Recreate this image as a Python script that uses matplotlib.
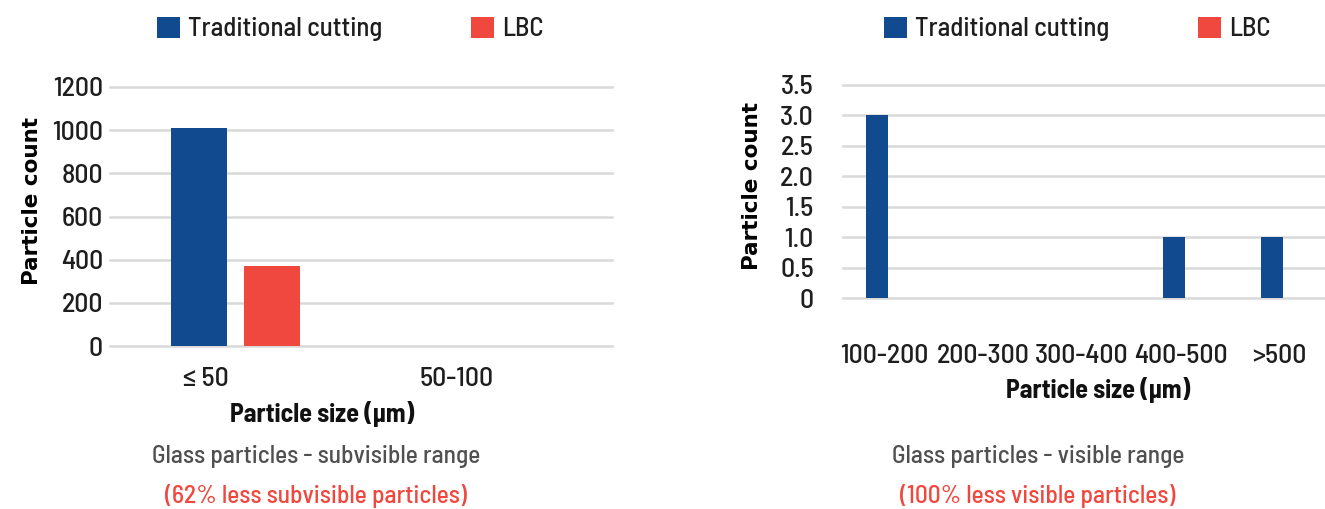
import numpy as np
import matplotlib.pyplot as plt
from matplotlib import transforms
from matplotlib.ticker import FuncFormatter

# Subvisible range counts
sub_sizes = ['≤ 50', '50-100']
sub_traditional = [1010, 0]
sub_lbc = [370, 0]

# Visible range counts
vis_sizes = ['100-200', '200-300', '300-400', '400-500', '>500']
vis_traditional = [3, 0, 0, 1, 1]
vis_lbc = [0, 0, 0, 0, 0]

blue = '#114a8f'
red = '#f0483e'
grid_c = '#d9d9d9'
grey_txt = '#505050'
ink = '#1e1e1e'
cond = ['Barlow Semi Condensed', 'Roboto Condensed', 'DejaVu Sans']

plt.rcParams['font.family'] = cond
plt.rcParams['font.weight'] = 500

fig = plt.figure(figsize=(13.25, 5.09), dpi=100)


def bar_panel(rect, cats, trad, lbc, ylim, ystep, w, off, label_shift, xpad, ypad, fmt):
    ax = fig.add_axes(rect)
    x = np.arange(len(cats))
    b1 = ax.bar(x - off, trad, w, color=blue, label='Traditional cutting', zorder=3)
    b2 = ax.bar(x + off, lbc, w, color=red, label='LBC', zorder=3)
    ax.set_xlim(-0.5, len(cats) - 0.5)
    ax.set_ylim(*ylim)
    ax.set_yticks(np.arange(ylim[0], ylim[1] + ystep / 2, ystep))
    ax.yaxis.set_major_formatter(FuncFormatter(fmt))
    ax.yaxis.grid(True, color=grid_c, linewidth=1.8, zorder=0)
    for ln in ax.get_ygridlines():
        ln.set_clip_on(False)
    for s in ax.spines.values():
        s.set_visible(False)
    ax.set_xticks(x)
    ax.set_xticklabels(cats)
    ax.tick_params(axis='both', length=0, labelsize=20, colors=ink)
    ax.tick_params(axis='x', pad=xpad)
    ax.tick_params(axis='y', pad=ypad)
    shift = transforms.ScaledTranslation(label_shift / 100, 0, fig.dpi_scale_trans)
    for lbl in ax.get_xticklabels():
        lbl.set_transform(lbl.get_transform() + shift)
    return ax, (b1, b2)


ax1, h1 = bar_panel([110 / 1325, 1 - 346 / 509, 502 / 1325, 259 / 509],
                    sub_sizes, sub_traditional, sub_lbc, (0, 1200), 200,
                    0.225, 0.145, -30, 15, 5, lambda v, p: f'{v:.0f}')
ax2, h2 = bar_panel([843 / 1325, 1 - 298 / 509, 493.75 / 1325, 213 / 509],
                    vis_sizes, vis_traditional, vis_lbc, (0, 3.5), 0.5,
                    0.223, 0.152, -8, 33, 21, lambda v, p: '0' if v == 0 else f'{v:.1f}')

# axis titles
fig.text(32 / 1325, 1 - 201 / 509, 'Particle count', rotation=90, ha='center', va='center',
         fontsize=15.5, fontweight='bold', family=['DejaVu Sans'])
fig.text(752 / 1325, 1 - 186 / 509, 'Particle count', rotation=90, ha='center', va='center',
         fontsize=15.5, fontweight='bold', family=['DejaVu Sans'])
fig.text(322 / 1325, 1 - 414 / 509, 'Particle size (µm)', ha='center', va='center',
         fontsize=18.8, fontweight='bold', color='#111111')
fig.text(1098 / 1325, 1 - 390 / 509, 'Particle size (µm)', ha='center', va='center',
         fontsize=18.8, fontweight='bold', color='#111111')

# captions
fig.text(316 / 1325, 1 - 457 / 509, 'Glass particles - subvisible range', ha='center', va='center',
         fontsize=18.3, color=grey_txt)
fig.text(316 / 1325, 1 - 496 / 509, '(62% less subvisible particles)', ha='center', va='center',
         fontsize=18.3, color=red)
fig.text(1038 / 1325, 1 - 457 / 509, 'Glass particles - visible range', ha='center', va='center',
         fontsize=18.3, color=grey_txt)
fig.text(1038 / 1325, 1 - 496 / 509, '(100% less visible particles)', ha='center', va='center',
         fontsize=18.3, color=red)

# legends
for h, cx in ((h1, 350), (h2, 1077)):
    fig.legend(h, ['Traditional cutting', 'LBC'], loc='center', ncol=2,
               bbox_to_anchor=(cx / 1325, 1 - 29 / 509), frameon=False, fontsize=19.3,
               handlelength=0.86, handleheight=0.85, handletextpad=0.3, columnspacing=3.3,
               labelcolor=ink)

fig.savefig('out.png', dpi=100)
